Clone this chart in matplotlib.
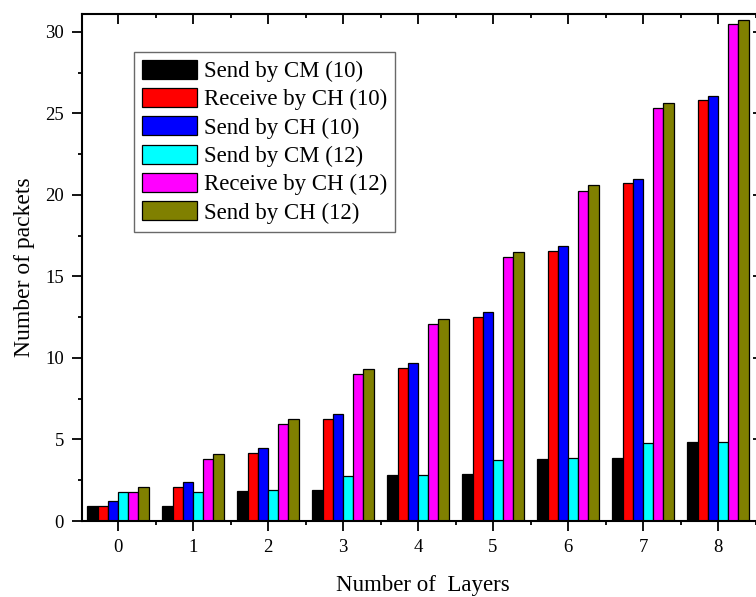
import numpy as np
import matplotlib
matplotlib.use('Agg')
import matplotlib.pyplot as plt
from matplotlib.ticker import MultipleLocator

plt.rcParams['font.family'] = ['Liberation Serif', 'DejaVu Serif']

# Packets per layer for the two network sizes (10 and 12 nodes)
layers = [0, 1, 2, 3, 4, 5, 6, 7, 8]
send_cm_10 = [0.92, 0.92, 1.84, 1.93, 2.85, 2.89, 3.83, 3.89, 4.85]
recv_ch_10 = [0.92, 2.08, 4.19, 6.28, 9.38, 12.5, 16.58, 20.73, 25.8]
send_ch_10 = [1.21, 2.39, 4.47, 6.58, 9.69, 12.79, 16.89, 20.99, 26.07]
send_cm_12 = [1.78, 1.78, 1.88, 2.79, 2.85, 3.77, 3.85, 4.79, 4.83]
recv_ch_12 = [1.78, 3.82, 5.96, 9.01, 12.09, 16.18, 20.26, 25.36, 30.46]
send_ch_12 = [2.08, 4.1, 6.25, 9.3, 12.42, 16.48, 20.59, 25.65, 30.75]

series = [send_cm_10, recv_ch_10, send_ch_10, send_cm_12, recv_ch_12, send_ch_12]
labels = ['Send by CM (10)', 'Receive by CH (10)', 'Send by CH (10)',
          'Send by CM (12)', 'Receive by CH (12)', 'Send by CH (12)']
colours = ['#000000', '#ff0000', '#0000ff', '#00ffff', '#ff00ff', '#808000']

fig = plt.figure(figsize=(7.56, 5.97), dpi=100)
# axes runs past the right edge of the figure
ax = fig.add_axes([82 / 756, 76 / 597, 681 / 756, 507 / 597])

x = np.arange(len(layers))
width = 0.136
for i, (vals, lab, col) in enumerate(zip(series, labels, colours)):
    ax.bar(x + (i - 2.5) * width, vals, width, color=col, label=lab,
           edgecolor='black', linewidth=0.9)

ax.set_xlim(-0.48, 8.6)
ax.set_ylim(0, 31.1)
ax.set_xticks(x)
ax.set_xticklabels([str(v) for v in layers])
ax.xaxis.set_minor_locator(MultipleLocator(0.5))
ax.yaxis.set_major_locator(MultipleLocator(5))
ax.yaxis.set_minor_locator(MultipleLocator(2.5))

ax.tick_params(which='major', direction='out', length=7, width=1.3,
               labelsize=13.5, pad=6)
ax.tick_params(which='minor', direction='out', length=3, width=1.3)
ax.tick_params(which='both', top=True, right=True)
# ticks on the top and right spines point inward
for t in ax.xaxis.get_major_ticks() + ax.xaxis.get_minor_ticks():
    t.tick2line.set_marker(matplotlib.lines.TICKDOWN)
for t in ax.yaxis.get_major_ticks() + ax.yaxis.get_minor_ticks():
    t.tick2line.set_marker(matplotlib.lines.TICKLEFT)

for s in ax.spines.values():
    s.set_linewidth(1.5)

ax.set_xlabel('Number of  Layers', fontsize=16.5, labelpad=14)
ax.set_ylabel('Number of packets', fontsize=17, labelpad=7)

leg = ax.legend(loc='upper left', bbox_to_anchor=(52 / 681, 1 - 37.5 / 507),
                borderaxespad=0, fontsize=16.5, frameon=True, fancybox=False,
                handlelength=2.4, handleheight=0.9, labelspacing=0.26,
                handletextpad=0.3, borderpad=0.35)
leg.get_frame().set_edgecolor('#444444')
leg.get_frame().set_linewidth(1.0)

plt.savefig('out.png', dpi=100)
